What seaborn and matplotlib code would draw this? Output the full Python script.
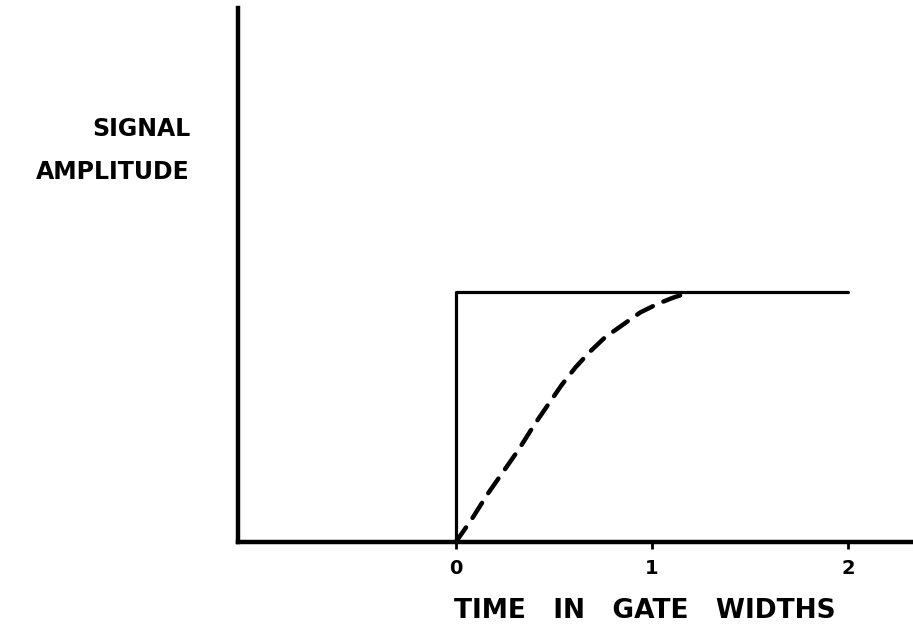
import matplotlib
matplotlib.use("Agg")
import matplotlib.pyplot as plt
import seaborn as sns
import pandas as pd

# step response (ideal gate) and the smoothed response
step_t = [0.0, 0.0, 2.0]
step_amp = [0.0, 1.0, 1.0]

curve_t = [0.0, 0.08, 0.16, 0.24, 0.32, 0.40, 0.47, 0.54, 0.61, 0.68,
           0.76, 0.85, 0.94, 1.03, 1.11, 1.19]
curve_amp = [0.0, 0.09, 0.19, 0.28, 0.37, 0.47, 0.55, 0.63, 0.70, 0.76,
             0.82, 0.87, 0.92, 0.955, 0.98, 1.0]

tick_pos = [0, 1, 2]
tick_labels = ["0", "1", "2"]

step_df = pd.DataFrame({"t": step_t, "amp": step_amp})
curve_df = pd.DataFrame({"t": curve_t, "amp": curve_amp})

sns.set_theme(style="white")
plt.rcParams["font.family"] = ["DejaVu Sans"]
plt.rcParams["text.color"] = "black"
plt.rcParams["axes.labelcolor"] = "black"
plt.rcParams["xtick.color"] = "black"

fig = plt.figure(figsize=(9.13, 6.32), dpi=100)
ax = fig.add_axes([0.2607, 0.1424, 0.7393, 0.8449])

# estimator=None so the vertical edge at t=0 is kept, not averaged
sns.lineplot(data=step_df, x="t", y="amp", sort=False, estimator=None,
             color="black", linewidth=2.3, ax=ax)
sns.lineplot(data=curve_df, x="t", y="amp", sort=False, estimator=None,
             color="black", linewidth=3.2, ax=ax)
ax.lines[-1].set_dashes([4.0, 2.6])
ax.lines[-1].set_dash_capstyle("round")

ax.set_xlim(-1.11, 2.33)
ax.set_ylim(0, 2.14)

for side in ["top", "right"]:
    ax.spines[side].set_visible(False)
for side in ["left", "bottom"]:
    ax.spines[side].set_linewidth(3.2)
    ax.spines[side].set_color("black")

ax.set_xticks(tick_pos)
ax.set_xticklabels(tick_labels, fontsize=14, fontweight="bold")
ax.set_yticks([])
ax.tick_params(axis="x", direction="out", length=5, width=2, color="black",
               labelcolor="black", bottom=True, pad=7)

ax.set_xlabel("TIME   IN   GATE   WIDTHS", fontsize=19, fontweight="bold")
ax.xaxis.set_label_coords(0.603, -0.105)

ax.set_ylabel("SIGNAL\nAMPLITUDE", rotation=0, fontsize=17,
              fontweight="bold", ha="right", va="center",
              multialignment="right", linespacing=2.0)
ax.yaxis.set_label_coords(-0.071, 0.734)

fig.savefig("out.png", dpi=100)
